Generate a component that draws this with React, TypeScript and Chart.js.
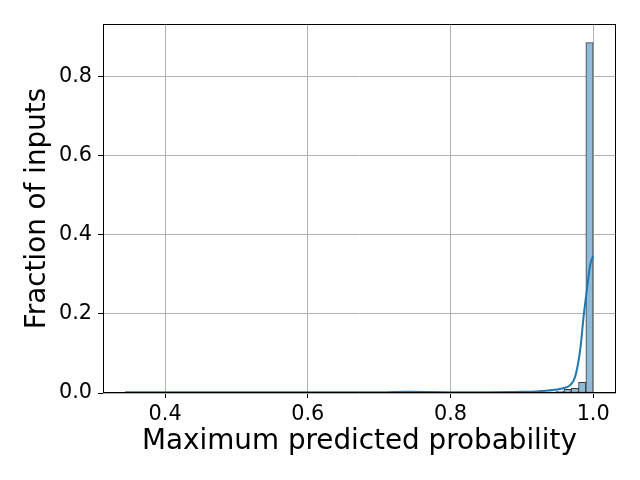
import React, { useEffect, useRef } from "react";
import { Chart, registerables } from "chart.js";

Chart.register(...registerables);

// Histogram: 64 equal-width bins starting at the minimum observed value
const binStart = 0.344;
const binEnd = 1.0;
const binCount = 64;
const binFractions = [
  0.0003, 0.0002, 0.0002, 0.0002, 0.0002, 0.0002, 0.0002, 0.0002,
  0.0002, 0.0002, 0.0002, 0.0002, 0.0002, 0.0002, 0.0002, 0.0002,
  0.0002, 0.0002, 0.0002, 0.0002, 0.0002, 0.0002, 0.0002, 0.0002,
  0.0002, 0.0002, 0.0002, 0.0002, 0.0002, 0.0002, 0.0002, 0.0002,
  0.0003, 0.0003, 0.0003, 0.0003, 0.0003, 0.0003, 0.0003, 0.0003,
  0.0003, 0.0003, 0.0004, 0.0004, 0.0004, 0.0004, 0.0005, 0.0005,
  0.0005, 0.0006, 0.0006, 0.0007, 0.0008, 0.0009, 0.0012, 0.0015,
  0.002, 0.0025, 0.003, 0.005, 0.009, 0.012, 0.027, 0.887,
];

// KDE curve
const kdeX = [0.344, 0.4, 0.5, 0.6, 0.7, 0.74, 0.8, 0.85, 0.9, 0.92, 0.94, 0.95, 0.958, 0.9677, 0.9747, 0.9818, 0.987, 0.9912, 0.9958, 1.0];
const kdeY = [0.002, 0.002, 0.002, 0.002, 0.002, 0.003, 0.002, 0.002, 0.003, 0.004, 0.007, 0.009, 0.012, 0.02, 0.041, 0.109, 0.2, 0.261, 0.324, 0.347];

const xTicks = [0.4, 0.6, 0.8, 1.0];
const yTicks = [0.0, 0.2, 0.4, 0.6, 0.8];
const xRange = [0.313, 1.032];
const yRange = [0, 0.934];

const xTitle = "Maximum predicted probability";
const yTitle = "Fraction of inputs";

const FONT = "'DejaVu Sans', sans-serif";

const framePlugin = {
  id: "frame",
  afterDraw(chart: any) {
    const { ctx, chartArea } = chart;
    ctx.save();
    ctx.strokeStyle = "#000";
    ctx.lineWidth = 1;
    ctx.strokeRect(
      Math.round(chartArea.left) + 0.5,
      Math.round(chartArea.top) + 0.5,
      Math.round(chartArea.right - chartArea.left) - 1,
      Math.round(chartArea.bottom - chartArea.top) - 1
    );
    ctx.restore();
  },
};

export default function App() {
  const ref = useRef<HTMLCanvasElement | null>(null);

  useEffect(() => {
    if (!ref.current) return;
    const width = (binEnd - binStart) / binCount;
    const barData = binFractions.map((v, i) => ({ x: binStart + width * (i + 0.5), y: v }));
    const kdeData = kdeX.map((x, i) => ({ x, y: kdeY[i] }));

    const chart = new Chart(ref.current, {
      type: "bar",
      data: {
        datasets: [
          {
            type: "line",
            data: kdeData,
            borderColor: "#1f77b4",
            borderWidth: 2,
            pointRadius: 0,
            cubicInterpolationMode: "monotone",
            fill: false,
            order: 0,
          } as any,
          {
            type: "bar",
            data: barData,
            backgroundColor: "#8fbbd9",
            borderColor: "#3a3a3a",
            borderWidth: 1,
            borderSkipped: false,
            barPercentage: 1,
            categoryPercentage: 1,
            order: 1,
          } as any,
        ],
      },
      options: {
        responsive: false,
        animation: false,
        layout: { padding: { left: 0, right: 24, top: 24, bottom: 0 } },
        plugins: { legend: { display: false }, tooltip: { enabled: false } },
        scales: {
          x: {
            type: "linear",
            min: xRange[0],
            max: xRange[1],
            offset: false,
            afterBuildTicks: (s: any) => {
              s.ticks = xTicks.map((v) => ({ value: v }));
            },
            afterFit: (s: any) => {
              s.height = 87;
            },
            grid: { color: "#b0b0b0", lineWidth: 1, tickColor: "#000", tickLength: 5, offset: false, drawTicks: true },
            border: { display: false },
            ticks: {
              color: "#000",
              font: { family: FONT, size: 20.8 },
              padding: 4,
              maxRotation: 0,
              callback: (v: any) => Number(v).toFixed(1),
            },
            title: {
              display: true,
              text: xTitle,
              color: "#000",
              font: { family: FONT, size: 27.8 },
              padding: { top: 0, bottom: 22 },
            },
          },
          y: {
            type: "linear",
            min: yRange[0],
            max: yRange[1],
            afterBuildTicks: (s: any) => {
              s.ticks = yTicks.map((v) => ({ value: v }));
            },
            afterFit: (s: any) => {
              s.width = 103;
            },
            grid: { color: "#b0b0b0", lineWidth: 1, tickColor: "#000", tickLength: 5 },
            border: { display: false },
            ticks: {
              color: "#000",
              font: { family: FONT, size: 20.8 },
              padding: 6,
              callback: (v: any) => Number(v).toFixed(1),
            },
            title: {
              display: true,
              text: yTitle,
              color: "#000",
              font: { family: FONT, size: 27.8 },
              padding: { top: 21, bottom: 0 },
            },
          },
        },
      },
      plugins: [framePlugin],
    });
    return () => chart.destroy();
  }, []);

  return (
    <div style={{ position: "fixed", left: 0, top: 0, width: 640, height: 480, background: "#fff" }}>
      <canvas ref={ref} width={640} height={480} />
    </div>
  );
}
